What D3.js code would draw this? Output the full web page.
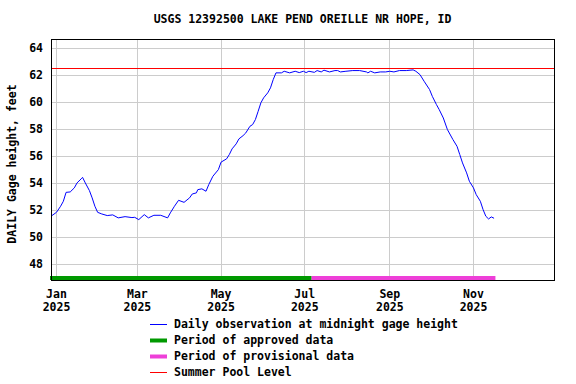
<!DOCTYPE html>
<html>
<head>
<meta charset="utf-8">
<script src="https://cdn.jsdelivr.net/npm/d3@7"></script>
<style>
  html, body { margin: 0; padding: 0; background: #fff; }
  svg text { font-family: "DejaVu Sans Mono", "Liberation Mono", monospace; font-weight: bold; font-size: 11.5px; fill: #000; }
</style>
</head>
<body>
<svg id="chart" width="576" height="384"></svg>
<script>
// ---- DATA ----
const titleText = "USGS 12392500 LAKE PEND OREILLE NR HOPE, ID";
const yAxisLabel = "DAILY Gage height, feet";

const obsDates = [
  "2024-12-28","2025-01-01","2025-01-04","2025-01-06","2025-01-08","2025-01-11","2025-01-14","2025-01-16",
  "2025-01-19","2025-01-20","2025-01-22","2025-01-25","2025-01-27","2025-01-29","2025-01-31","2025-02-03",
  "2025-02-07","2025-02-11","2025-02-15","2025-02-20","2025-02-25","2025-02-27","2025-03-02","2025-03-06",
  "2025-03-09","2025-03-13","2025-03-18","2025-03-23","2025-03-25","2025-03-28","2025-03-31","2025-04-04",
  "2025-04-08","2025-04-10","2025-04-13","2025-04-14","2025-04-17","2025-04-20","2025-04-22","2025-04-25",
  "2025-04-29","2025-05-01","2025-05-05","2025-05-07","2025-05-09","2025-05-12","2025-05-14","2025-05-17",
  "2025-05-19","2025-05-22","2025-05-24","2025-05-26","2025-05-28","2025-05-30","2025-06-01","2025-06-04",
  "2025-06-06","2025-06-08","2025-06-10","2025-06-14","2025-06-16","2025-06-20","2025-06-24","2025-06-27",
  "2025-06-30","2025-07-02","2025-07-04","2025-07-08","2025-07-10","2025-07-13","2025-07-15","2025-07-19",
  "2025-07-23","2025-07-25","2025-07-27","2025-07-31","2025-08-05","2025-08-10","2025-08-15","2025-08-16",
  "2025-08-18","2025-08-21","2025-08-25","2025-08-29","2025-09-01","2025-09-04","2025-09-08","2025-09-13",
  "2025-09-18","2025-09-20","2025-09-23","2025-09-26","2025-09-30","2025-10-02","2025-10-05","2025-10-07",
  "2025-10-10","2025-10-13","2025-10-17","2025-10-20","2025-10-22","2025-10-24","2025-10-27","2025-10-29",
  "2025-11-01","2025-11-03","2025-11-06","2025-11-08","2025-11-10","2025-11-12","2025-11-14","2025-11-16"
];
const obsValues = [
  51.56,51.85,52.30,52.67,53.33,53.36,53.66,54.03,
  54.33,54.44,54.03,53.46,52.92,52.30,51.85,51.73,
  51.61,51.66,51.44,51.53,51.46,51.48,51.31,51.68,
  51.44,51.63,51.63,51.44,51.81,52.30,52.74,52.59,
  52.92,53.21,53.29,53.53,53.59,53.41,53.90,54.52,
  55.01,55.57,55.81,56.13,56.55,56.92,57.29,57.53,
  57.73,58.22,58.35,58.72,59.33,59.96,60.33,60.70,
  61.07,61.68,62.18,62.18,62.30,62.18,62.30,62.20,
  62.30,62.20,62.30,62.22,62.35,62.25,62.38,62.25,
  62.35,62.35,62.25,62.30,62.35,62.35,62.25,62.18,
  62.30,62.18,62.25,62.25,62.30,62.25,62.35,62.35,
  62.40,62.30,62.05,61.56,60.94,60.44,59.83,59.46,
  58.84,57.98,57.24,56.74,56.13,55.51,54.77,54.15,
  53.66,53.16,52.67,52.05,51.56,51.36,51.51,51.41
];

const summerPoolLevel = 62.5;

const periodNames  = ["approved", "provisional"];
const periodStarts = ["2024-12-28", "2025-07-06"];
const periodEnds   = ["2025-07-06", "2025-11-17"];
const periodColors = ["#009900", "#ee3fd8"];

const xTickDates  = ["2025-01-01","2025-03-01","2025-05-01","2025-07-01","2025-09-01","2025-11-01"];
const xTickMonths = ["Jan","Mar","May","Jul","Sep","Nov"];
const xTickYears  = ["2025","2025","2025","2025","2025","2025"];
const yTicks = [48,50,52,54,56,58,60,62,64];

const legendLabels = [
  "Daily observation at midnight gage height",
  "Period of approved data",
  "Period of provisional data",
  "Summer Pool Level"
];
const legendColors = ["#0000ff", "#009900", "#ee3fd8", "#ff0000"];
const legendWidths = [1, 4, 4, 1];

// ---- CHART ----
const parse = s => new Date(s.length > 10 ? s + ":00Z" : s + "T00:00:00Z");
const svg = d3.select("#chart");
const L = 51, R = 554, T = 39, B = 280;

const x = d3.scaleUtc()
  .domain([parse("2024-12-28"), parse("2025-12-29T16:48")])
  .range([L, R]);
const y = d3.scaleLinear().domain([46.837, 64.689]).range([B, T]);
const px = v => Math.floor(v) + 0.5;

// gridlines
svg.append("g").selectAll("line").data(yTicks).join("line")
  .attr("x1", L).attr("x2", R)
  .attr("y1", d => px(y(d))).attr("y2", d => px(y(d)))
  .attr("stroke", "#cccccc").attr("stroke-width", 1);
svg.append("g").selectAll("line").data(xTickDates).join("line")
  .attr("x1", d => px(x(parse(d)))).attr("x2", d => px(x(parse(d))))
  .attr("y1", T).attr("y2", B)
  .attr("stroke", "#cccccc").attr("stroke-width", 1);

// clip
svg.append("clipPath").attr("id", "clip").append("rect")
  .attr("x", L).attr("y", T).attr("width", R - L).attr("height", B - T);

// summer pool line
svg.append("line")
  .attr("x1", L).attr("x2", R)
  .attr("y1", px(y(summerPoolLevel))).attr("y2", px(y(summerPoolLevel)))
  .attr("stroke", "#ff0000").attr("stroke-width", 1)
  .attr("shape-rendering", "crispEdges");

// observation line
const obs = obsDates.map((d, i) => ({ date: parse(d), value: obsValues[i] }));
svg.append("path")
  .datum(obs)
  .attr("clip-path", "url(#clip)")
  .attr("fill", "none")
  .attr("stroke", "#0000ff")
  .attr("stroke-width", 1)
  .attr("d", d3.line().x(d => x(d.date)).y(d => y(d.value)));

// period bars
svg.append("g").selectAll("rect").data(periodNames).join("rect")
  .attr("x", (d, i) => x(parse(periodStarts[i])) - (i === 0 ? 1 : 0))
  .attr("width", (d, i) => x(parse(periodEnds[i])) - x(parse(periodStarts[i])) + (i === 0 ? 1 : 0))
  .attr("y", B - 4).attr("height", 4)
  .attr("fill", (d, i) => periodColors[i]);

// frame
svg.append("rect")
  .attr("x", L + 0.5).attr("y", T + 0.5)
  .attr("width", R - L).attr("height", B - T)
  .attr("fill", "none").attr("stroke", "#000").attr("stroke-width", 1);

// y tick labels
svg.append("g").selectAll("text").data(yTicks).join("text")
  .attr("x", 43).attr("y", d => y(d) + 4)
  .attr("text-anchor", "end")
  .text(d => d);

// x tick labels
const xl = svg.append("g").selectAll("g").data(xTickDates).join("g")
  .attr("transform", d => `translate(${x(parse(d))},0)`);
xl.append("text").attr("x", 0).attr("y", 298).attr("text-anchor", "middle").text((d, i) => xTickMonths[i]);
xl.append("text").attr("x", 0).attr("y", 311).attr("text-anchor", "middle").text((d, i) => xTickYears[i]);

// title
svg.append("text").attr("x", (L + R) / 2).attr("y", 23).attr("text-anchor", "middle").text(titleText);

// y label
svg.append("text")
  .attr("transform", "translate(16,164) rotate(-90)")
  .attr("text-anchor", "middle")
  .text(yAxisLabel);

// legend
const lg = svg.append("g").selectAll("g").data(legendLabels).join("g")
  .attr("transform", (d, i) => `translate(0,${324 + i * 16})`);
lg.append("line").attr("x1", 150).attr("x2", 167).attr("y1", 0.5).attr("y2", 0.5)
  .attr("stroke", (d, i) => legendColors[i]).attr("stroke-width", (d, i) => legendWidths[i]);
lg.append("text").attr("x", 174).attr("y", 4).text(d => d);
</script>
</body>
</html>
